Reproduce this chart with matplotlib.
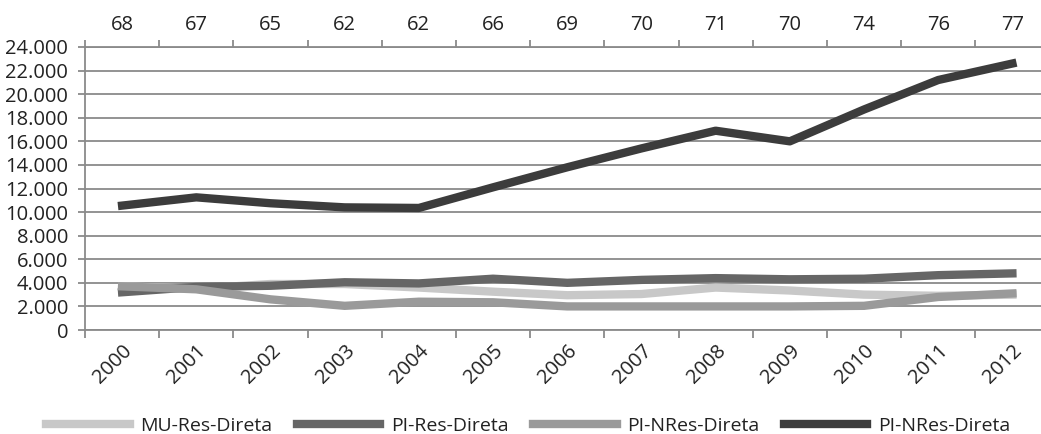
import matplotlib
matplotlib.use("Agg")
import matplotlib.pyplot as plt
from matplotlib.ticker import FuncFormatter

plt.rcParams['font.family'] = ['Open Sans', 'DejaVu Sans']

years = ['2000', '2001', '2002', '2003', '2004', '2005', '2006',
         '2007', '2008', '2009', '2010', '2011', '2012']
top_labels = ['68', '67', '65', '62', '62', '66', '69',
              '70', '71', '70', '74', '76', '77']

# values
mu_res = [3700, 3500, 3900, 3900, 3600, 3250, 2950, 3050, 3600, 3350, 3000, 2900, 3000]
pi_res = [3200, 3650, 3750, 4050, 3950, 4350, 4000, 4250, 4400, 4300, 4350, 4650, 4800]
pi_nres = [3700, 3450, 2600, 2050, 2400, 2350, 2000, 2000, 2000, 2000, 2050, 2800, 3100]
pi_nres2 = [10550, 11250, 10750, 10400, 10350, 12100, 13800, 15400, 16900, 16000, 18700, 21200, 22600]

series = [
    ('MU-Res-Direta', mu_res, '#c8c8c8'),
    ('PI-Res-Direta', pi_res, '#666666'),
    ('PI-NRes-Direta', pi_nres, '#9a9a9a'),
    ('PI-NRes-Direta', pi_nres2, '#3c3c3c'),
]

W, H = 1041, 434
fig = plt.figure(figsize=(W / 100, H / 100), dpi=100)
left, right, top, bottom = 85, 1049.5, 47, 330
ax = fig.add_axes([left / W, 1 - bottom / H, (right - left) / W, (bottom - top) / H])

x = list(range(len(years)))
# draw order: lighter ones first, PI-Res over them, dark on top
for i in [2, 0, 1, 3]:
    name, vals, col = series[i]
    ax.plot(x, vals, color=col, lw=6, solid_capstyle='projecting',
            solid_joinstyle='round', label=name, zorder=3 + i)

ax.set_xlim(-0.5, len(years) - 0.5)
ax.set_ylim(0, 24000)
ax.set_yticks(range(0, 24001, 2000))
ax.yaxis.set_major_formatter(FuncFormatter(lambda v, p: f'{int(v):,}'.replace(',', '.')))
ax.grid(axis='y', color='#8a8a8a', lw=1.3, zorder=1)
ax.set_axisbelow(True)

grid_col = '#8a8a8a'
for s in ['top', 'right']:
    ax.spines[s].set_visible(False)
for s in ['left', 'bottom']:
    ax.spines[s].set_color(grid_col)
    ax.spines[s].set_linewidth(1.3)

txt_col = '#222222'
fs = 14.5
ax.tick_params(axis='y', length=5, width=1.3, color=grid_col, labelsize=fs,
               labelcolor=txt_col, pad=7)

# bottom: ticks at category boundaries, labels at centres
ax.set_xticks([i - 0.5 for i in range(len(years) + 1)], minor=False)
ax.set_xticklabels([])
ax.tick_params(axis='x', which='major', length=6, width=1.3, color=grid_col)
ax.set_xticks(x, minor=True)
ax.set_xticklabels(years, minor=True, rotation=45, ha='right', va='top',
                   rotation_mode='anchor', fontsize=fs, color=txt_col)
ax.tick_params(axis='x', which='minor', length=0, pad=8)

# top axis with the counts
ax2 = ax.twiny()
ax2.set_xlim(ax.get_xlim())
ax2.spines['top'].set_color(grid_col)
ax2.spines['top'].set_linewidth(1.3)
for s in ['left', 'right', 'bottom']:
    ax2.spines[s].set_visible(False)
ax2.set_xticks([i - 0.5 for i in range(len(years) + 1)])
ax2.set_xticklabels([])
ax2.tick_params(axis='x', which='major', length=5, width=1.3, color=grid_col)
ax2.set_xticks(x, minor=True)
ax2.set_xticklabels(top_labels, minor=True, fontsize=fs, color=txt_col)
ax2.tick_params(axis='x', which='minor', length=0, pad=9)

handles, labels = ax.get_legend_handles_labels()
order = [labels.index('MU-Res-Direta'), labels.index('PI-Res-Direta')]
order += [i for i in range(len(labels)) if i not in order]
fig.legend([handles[i] for i in order], [labels[i] for i in order],
           loc='center left', bbox_to_anchor=(46 / W, 1 - 426 / H), ncol=4,
           frameon=False, fontsize=14, handlelength=4.3, handletextpad=0.55,
           columnspacing=1.25, labelcolor=txt_col, borderaxespad=0, borderpad=0)

fig.savefig('out.png', dpi=100)
